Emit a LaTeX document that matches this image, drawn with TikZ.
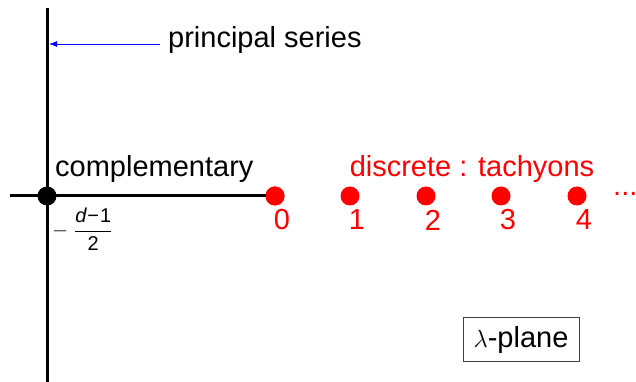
\documentclass[tikz,border=0pt]{standalone}
\usepackage{amsmath}
\usepackage{fontspec}
\setmainfont{Liberation Sans}
\usetikzlibrary{arrows.meta}
\begin{document}
\begin{tikzpicture}[x=1pt,y=1pt,
  big/.style={font=\fontsize{29}{33}\selectfont, inner sep=0pt},
  reddot/.style={circle, fill=red, draw=none, minimum size=19pt, inner sep=0pt},
  numlbl/.style={big, text=red},
  axis/.style={line width=3pt, black}]
\useasboundingbox (0,0) rectangle (636,382);
% axes
\coordinate (vtop) at (47,374);
\coordinate (vbot) at (47,0);
\coordinate (hleft) at (10,186);
\draw[axis] (vtop) -- (vbot);
\node[reddot] (d0) at (275,186) {};
\draw[axis] (hleft) -- (d0.center);
\node[reddot] (d0b) at (275,186) {};
\node[reddot] (d1) at (350,186) {};
\node[reddot] (d2) at (426,186) {};
\node[reddot] (d3) at (501,186) {};
\node[reddot] (d4) at (577,186) {};
\node[circle, fill=black, minimum size=19pt, inner sep=0pt] (origin) at (47,186) {};
% labels
\node[numlbl] (l0) at (282,162) {0};
\node[numlbl] (l1) at (357,162) {1};
\node[numlbl] (l2) at (433,162) {2};
\node[numlbl] (l3) at (508,162) {3};
\node[numlbl] (l4) at (584,162) {4};
\node[big, text=red, anchor=base west] (dots) at (613,186) {...};
\node[big, text=red] (disc) at (472,213) {discrete : tachyons};
\node[big, anchor=west] (comp) at (55,213) {complementary};
\node[font=\fontsize{20}{24}\selectfont, inner sep=0pt, anchor=west] (frac) at (52,153)
  {$-\;\dfrac{\text{\itshape d}\hspace{1pt}\text{−}\hspace{1pt}\text{1}}{\text{2}}$};
% principal series
\node[big, anchor=west] (ps) at (168,342) {principal series};
\coordinate (arrowend) at (49,338);
\draw[blue, line width=0.9pt, -{Latex[length=8pt,width=6pt]}] (160,338) -- (arrowend);
% lambda plane
\node[big, draw=black!75, line width=1pt, minimum width=116pt, minimum height=44pt] (lp) at (521,42) {$\lambda$-plane};
\end{tikzpicture}
\end{document}
